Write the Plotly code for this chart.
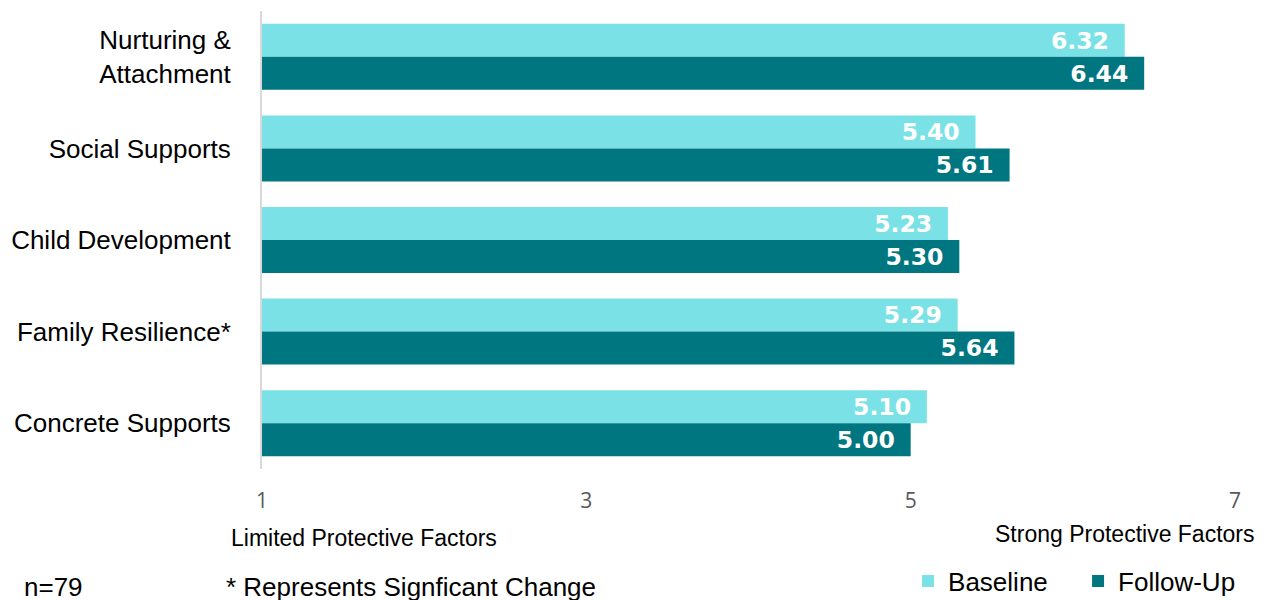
import plotly.graph_objects as go

# Protective factors survey, baseline vs follow-up (scale 1-7)
categories = ["Nurturing &<br>Attachment", "Social Supports", "Child Development",
              "Family Resilience*", "Concrete Supports"]
baseline = [6.32, 5.40, 5.23, 5.29, 5.10]
follow_up = [6.44, 5.61, 5.30, 5.64, 5.00]
tick_vals = [1, 3, 5, 7]

BASE_COLOR = "#7AE2E6"
FOLLOW_COLOR = "#007681"

fig = go.Figure()
for name, vals, color in [("Baseline", baseline, BASE_COLOR),
                          ("Follow-Up", follow_up, FOLLOW_COLOR)]:
    fig.add_trace(go.Bar(
        name=name,
        y=categories,
        x=[v - 1 for v in vals],
        base=1,
        orientation="h",
        marker_color=color,
        marker_line_width=0,
        text=[f"{v:.2f}\u00a0\u2009" for v in vals],
        textposition="inside",
        insidetextanchor="end",
        textangle=0,
        textfont=dict(family="DejaVu Sans", size=27, color="white", weight="bold"),
        hoverinfo="skip",
    ))

# page body adds an 8px offset, so margins are shifted to compensate
fig.update_layout(
    width=1268, height=600,
    barmode="group",
    bargap=0.28,
    bargroupgap=0,
    plot_bgcolor="white",
    paper_bgcolor="white",
    margin=dict(l=252, r=41, t=3, b=138),
    font=dict(family="Liberation Sans", color="#000000"),
    uniformtext=dict(minsize=10, mode="show"),
    legend=dict(
        orientation="h",
        x=0.664, xanchor="left",
        y=-0.245, yanchor="middle",
        font=dict(size=26, color="#000000"),
        entrywidth=125,
        entrywidthmode="pixels",
        traceorder="normal",
    ),
)

fig.update_xaxes(
    range=[1, 7],
    tickvals=tick_vals,
    showgrid=False,
    zeroline=False,
    showline=False,
    ticks="",
    ticklabelstandoff=17,
    tickfont=dict(family="Open Sans", size=21, color="#595959"),
)
fig.update_yaxes(
    autorange="reversed",
    showgrid=False,
    showline=True,
    linecolor="#D9D9D9",
    linewidth=2,
    ticks="",
    ticklabelstandoff=24,
    tickfont=dict(size=26, color="#000000"),
)

notes = [
    ("Limited Protective Factors", 362, 539, "center", 23),
    ("Strong Protective Factors", 1125, 535, "center", 23),
    ("n=79", 20, 588, "left", 26),
    ("* Represents Signficant Change", 222, 588, "left", 26),
]
for text, px_x, px_y, anchor, size in notes:
    fig.add_annotation(
        text=text,
        xref="paper", yref="paper",
        x=(px_x - 260) / 975, y=(470 - px_y) / 459,
        xanchor=anchor, yanchor="middle",
        showarrow=False,
        font=dict(size=size, color="#000000"),
    )

fig.write_html("out.html")
